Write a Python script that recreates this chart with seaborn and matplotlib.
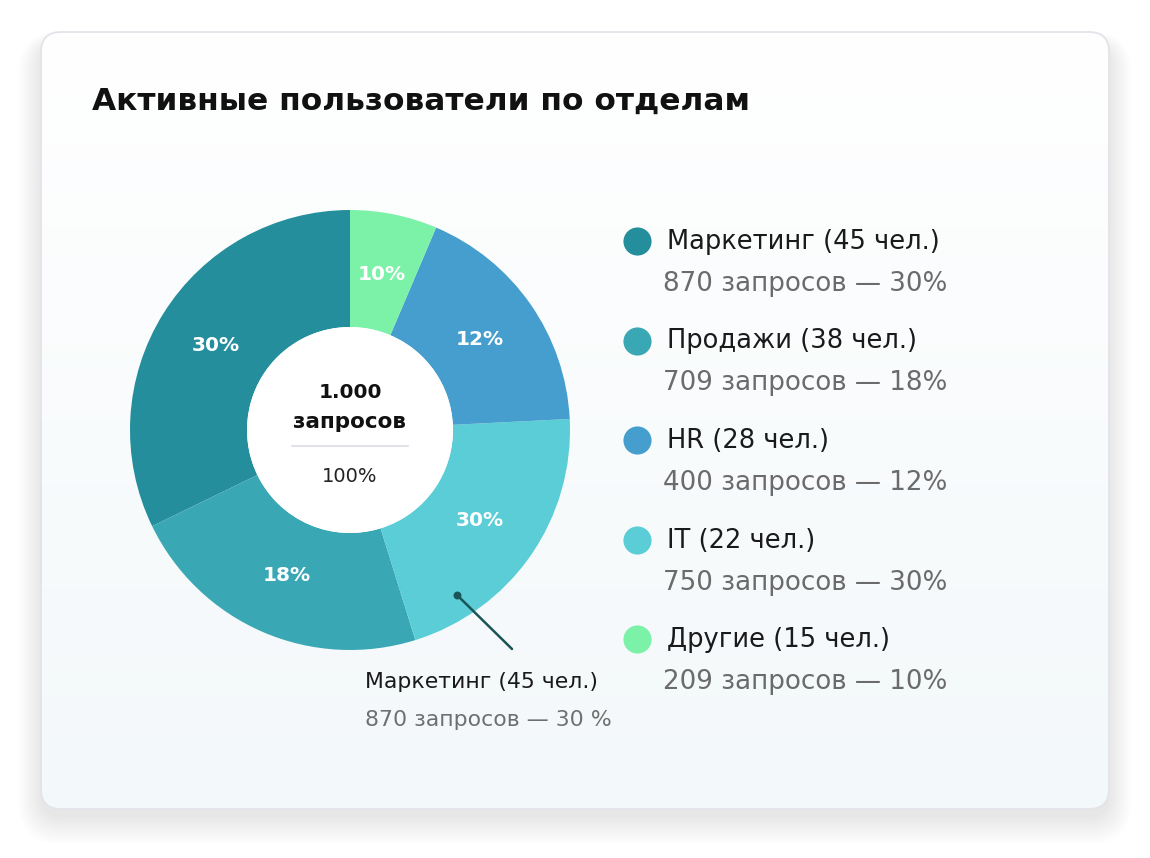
import numpy as np
import seaborn as sb
import matplotlib.pyplot as plt
from matplotlib.patches import FancyBboxPatch, Circle

# --- data ---
otdely = ['Маркетинг', 'Продажи', 'HR', 'IT', 'Другие']
lyudi = [45, 38, 28, 22, 15]
zaprosy = [870, 709, 400, 750, 209]
procenty = [30, 18, 12, 30, 10]
# slice shares as drawn in the picture (%)
doli = [32.2, 22.6, 17.8, 21.0, 6.4]
# order of slices around the ring, counter-clockwise from the top
poryadok_pie = [0, 1, 3, 2, 4]
culori = ['#248e9c', '#3aa8b4', '#459ecd', '#5acdd7', '#7bf2a7']
titlu = 'Активные пользователи по отделам'
centru_sus = ['1.000', 'запросов']
centru_jos = '100%'
nota_rand1 = 'Маркетинг (45 чел.)'
nota_rand2 = '870 запросов — 30 %'

sb.set_theme(style='white')
plt.rcParams['font.family'] = ['DejaVu Sans']
paleta = sb.color_palette(culori)

W, H = 1150, 858
fig = plt.figure(figsize=(W / 100, H / 100), dpi=100)
fig.patch.set_facecolor('white')
ax = fig.add_axes([0, 0, 1, 1])


def y(v):
    # image pixel row -> axes y
    return H - v


# card shadow (soft, mostly below)
for k in range(24):
    umbra = FancyBboxPatch((41 - k * 1.0, y(809) - 8 - k * 1.2), 1068 + k * 2.0, 772 + k * 1.8,
                           boxstyle='round,pad=0,rounding_size=%d' % (20 + k),
                           facecolor='#8d97a3', edgecolor='none', alpha=0.0028, zorder=0)
    ax.add_patch(umbra)

card = FancyBboxPatch((41, y(809)), 1068, 777, boxstyle='round,pad=0,rounding_size=20',
                      facecolor='none', edgecolor='#e3e3e9', linewidth=1.3, zorder=3)
fundal = FancyBboxPatch((41, y(809)), 1068, 777, boxstyle='round,pad=0,rounding_size=20',
                        facecolor='white', edgecolor='none', zorder=1)
ax.add_patch(fundal)
grad = np.linspace(0, 1, 256).reshape(-1, 1)
img = ax.imshow(grad, cmap=sb.blend_palette(['#ffffff', '#f3f8fa'], as_cmap=True),
                extent=(41, 1109, y(809), y(32)), origin='upper', aspect='auto', zorder=2)
img.set_clip_path(fundal)
ax.add_patch(card)

# title
ax.text(92, y(110), titlu, fontsize=22.5, fontweight='bold', color='#111111',
        ha='left', va='baseline', zorder=5)

# donut
cx, cy, R, r = 350, y(430), 220, 103
wedges, _ = ax.pie([doli[i] for i in poryadok_pie],
                   colors=[paleta[i] for i in poryadok_pie],
                   startangle=90, counterclock=True, center=(cx, cy), radius=R,
                   wedgeprops=dict(width=R - r, linewidth=0))
for w in wedges:
    w.set_zorder(4)
for w, i in zip(wedges, poryadok_pie):
    a = np.deg2rad((w.theta1 + w.theta2) / 2)
    ax.text(cx + 0.72 * R * np.cos(a), cy + 0.72 * R * np.sin(a), f'{procenty[i]}%',
            color='white', fontsize=14.5, fontweight='bold', ha='center', va='center', zorder=6)
ax.add_patch(Circle((cx, cy), r, facecolor='white', edgecolor='none', zorder=5))

# center text
ax.text(cx, y(398), centru_sus[0], fontsize=14.5, fontweight='bold',
        color='#111111', ha='center', va='baseline', zorder=6)
ax.text(cx, y(428), centru_sus[1], fontsize=15.5, fontweight='bold',
        color='#111111', ha='center', va='baseline', zorder=6)
ax.plot([292, 408], [y(446), y(446)], color='#e2e2e8', linewidth=1.5, zorder=6)
ax.text(cx, y(482), centru_jos, fontsize=14, color='#222222',
        ha='center', va='baseline', zorder=6)

# callout
ax.plot([457, 512], [y(595), y(649)], color='#1b5456', linewidth=1.8, zorder=6)
ax.scatter([457], [y(595)], s=22, color='#1b5456', zorder=7)
ax.text(365, y(688), nota_rand1, fontsize=15.8, color='#1a1a1a', ha='left',
        va='baseline', zorder=6)
ax.text(365, y(726), nota_rand2, fontsize=15.8, color='#6f6f6f', ha='left',
        va='baseline', zorder=6)

# legend
for i, nume in enumerate(otdely):
    ry = 241 + i * 99.5
    ax.scatter([637], [y(ry)], s=410, color=paleta[i], linewidths=0, zorder=6)
    ax.text(667, y(ry + 8), f'{nume} ({lyudi[i]} чел.)', fontsize=18.5, color='#1a1a1a',
            ha='left', va='baseline', zorder=6)
    ax.text(663, y(ry + 50), f'{zaprosy[i]} запросов — {procenty[i]}%', fontsize=18.8,
            color='#6b6b6b', ha='left', va='baseline', zorder=6)

ax.set_xlim(0, W)
ax.set_ylim(0, H)
ax.set_aspect('auto')
ax.axis('off')
fig.savefig('out.png', dpi=100)
